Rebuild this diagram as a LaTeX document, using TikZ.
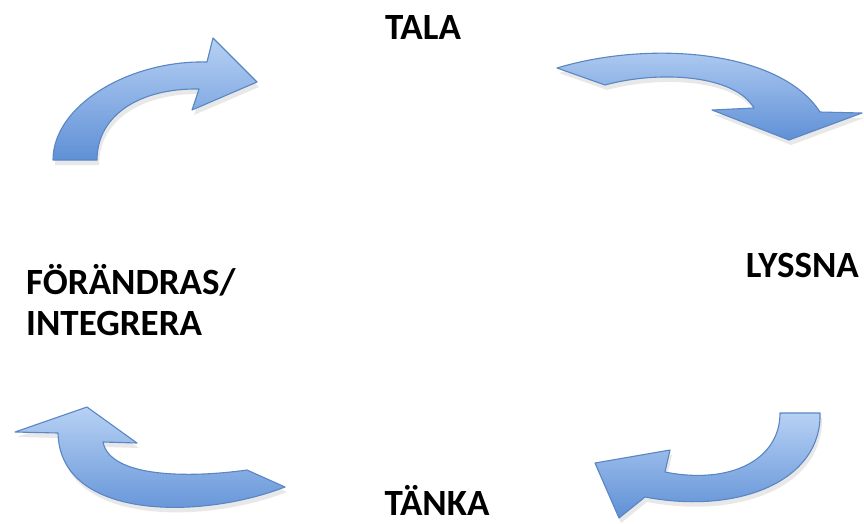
\documentclass[tikz,border=0pt]{standalone}
\usepackage{fontspec}
\setmainfont{Carlito}
\usetikzlibrary{shadows,positioning}
\definecolor{arrowlight}{HTML}{B7D1F4}
\definecolor{arrowdark}{HTML}{5F90D6}
\definecolor{arrowline}{HTML}{5A86C4}
\tikzset{
    bluearrow/.style={draw=arrowline, line width=1.1pt, line join=round,
        top color=arrowlight, bottom color=arrowdark,
        drop shadow={opacity=0.18, shadow xshift=2pt, shadow yshift=-5pt}},
    lbl/.style={font=\fontsize{37}{41}\selectfont\bfseries, inner sep=0pt, align=left}
}
\begin{document}
\begin{tikzpicture}[x=1pt, y=-1pt]
                        \useasboundingbox (0, 0) rectangle (864, 523);

                        \node[lbl, anchor=base] (tala) at (423, 39) {TALA};
                        \node[lbl, anchor=base east] (lyssna) at (859, 277) {LYSSNA};
                        \node[lbl, anchor=base] (tanka) at (437, 515) {TÄNKA};
                        \node[lbl, anchor=north west] (forandras) at (26, 264) {FÖRÄNDRAS/\\INTEGRERA};

                        \draw[bluearrow]
                        (53, 160) .. controls (53, 105) and (130, 60) .. (207, 62)
                        -- (213, 38) -- (257, 82) -- (192, 110) -- (199, 89)
                        .. controls (140, 88) and (97, 115) .. (97, 160) -- cycle;

                        \draw[bluearrow]
                        (557, 68) .. controls (650, 40) and (780, 50) .. (820, 112)
                        -- (862, 113) -- (789, 140) -- (712, 110) -- (754, 108)
                        .. controls (735, 75) and (660, 70) .. (605, 85) -- cycle;

                        \draw[bluearrow]
                        (820, 413) .. controls (822, 480) and (740, 515) .. (645, 497)
                        -- (619, 518) -- (595, 463) -- (670, 450) -- (665, 472)
                        .. controls (730, 485) and (780, 460) .. (780, 413) -- cycle;

                        \draw[bluearrow]
                        (285, 487) .. controls (200, 520) and (60, 520) .. (58, 433)
                        -- (15, 432) -- (87, 407) -- (137, 443) -- (103, 442)
                        .. controls (110, 478) and (190, 478) .. (247, 470) -- cycle;
                    \end{tikzpicture}
\end{document}
